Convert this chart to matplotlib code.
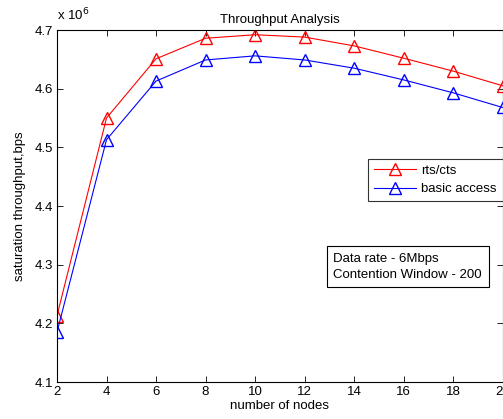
import matplotlib
matplotlib.use('Agg')
import matplotlib.pyplot as plt

plt.rcParams['font.family'] = ['Liberation Sans', 'DejaVu Sans']

# Data
nodes = [2, 4, 6, 8, 10, 12, 14, 16, 18, 20]
rts_cts = [4.213, 4.550, 4.651, 4.686, 4.692, 4.688, 4.673, 4.652, 4.630, 4.605]
basic_access = [4.185, 4.513, 4.613, 4.649, 4.656, 4.649, 4.635, 4.615, 4.593, 4.568]

FS = 9.5

fig = plt.figure(figsize=(5.03, 4.19), dpi=100)
ax = fig.add_axes([0.1133, 0.0883, 0.886, 0.840])

ax.plot(nodes, rts_cts, color='red', marker='^', markersize=8.5, markerfacecolor='none',
        markeredgecolor='red', linewidth=0.8, label='rts/cts')
ax.plot(nodes, basic_access, color='blue', marker='^', markersize=8.5, markerfacecolor='none',
        markeredgecolor='blue', linewidth=0.8, label='basic access')

ax.set_xlim(2, 20)
ax.set_ylim(4.1, 4.7)
ax.set_xticks(nodes)
ax.set_yticks([4.1, 4.2, 4.3, 4.4, 4.5, 4.6, 4.7])
ax.set_yticklabels(['4.1', '4.2', '4.3', '4.4', '4.5', '4.6', '4.7'])
ax.tick_params(direction='in', top=True, right=True, labelsize=FS, length=4, width=0.6, pad=3)
for s in ax.spines.values():
    s.set_linewidth(0.8)

ax.set_title('Throughput Analysis', fontsize=FS, pad=5)
ax.set_xlabel('number of nodes', fontsize=FS, labelpad=1)
ax.set_ylabel('saturation throughput,bps', fontsize=FS, labelpad=6)
ax.text(0.0, 1.02, r'x 10$^{6}$', transform=ax.transAxes, fontsize=FS, va='bottom', ha='left')

leg = ax.legend(loc='upper right', bbox_to_anchor=(1.0, 0.634), fontsize=FS, frameon=True,
                fancybox=False, edgecolor='black', handlelength=3.2, borderpad=0.45,
                labelspacing=0.45, handletextpad=0.4, borderaxespad=0.0)
leg.get_frame().set_linewidth(0.8)

ax.text(0.62, 0.328, 'Data rate - 6Mbps\nContention Window - 200', transform=ax.transAxes,
        fontsize=FS, va='center', ha='left', linespacing=1.45,
        bbox=dict(boxstyle='square,pad=0.5', facecolor='white', edgecolor='black', linewidth=0.8))

fig.savefig('out.png', dpi=100)
